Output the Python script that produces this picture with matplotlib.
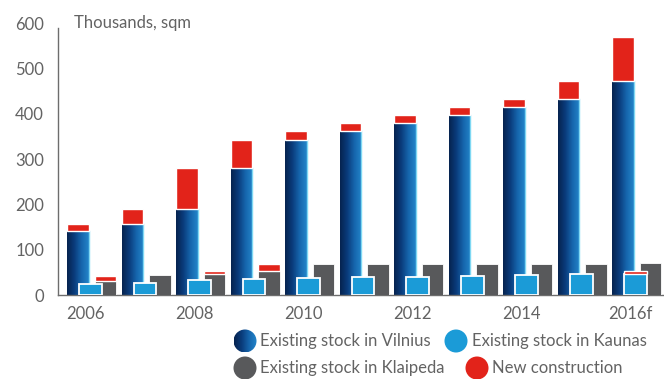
import numpy as np
import matplotlib
matplotlib.use("Agg")
import matplotlib.pyplot as plt
from matplotlib.colors import LinearSegmentedColormap
from matplotlib.patches import Circle

# Office stock, thousands of sqm
years = ["2006", "2007", "2008", "2009", "2010", "2011", "2012", "2013", "2014", "2015", "2016f"]
tick_labels = ["2006", "", "2008", "", "2010", "", "2012", "", "2014", "", "2016f"]
vilnius = [141, 157, 189, 281, 341, 361, 379, 396, 414, 432, 471]
new_vilnius = [16, 33, 91, 60, 20, 18, 17, 18, 18, 39, 98]
kaunas = [24, 26, 33, 35, 37, 39, 40, 42, 44, 46, 46]
new_kaunas = [0, 0, 0, 0, 0, 0, 0, 0, 0, 0, 8]
klaipeda = [31, 44, 46, 53, 68, 68, 68, 68, 68, 68, 71]
new_klaipeda = [12, 0, 6, 15, 0, 0, 0, 0, 0, 0, 0]

legend_labels = ["Existing stock in Vilnius", "Existing stock in Kaunas",
                 "Existing stock in Klaipeda", "New construction"]

TEXT = "#636363"
GREY = "#58595b"
LIGHT_BLUE = "#1b9bd7"
RED = "#e2231a"
blue_grad = LinearSegmentedColormap.from_list(
    "vilnius", ["#06234f", "#0a3c7c", "#1666ad", "#2385ca"])

plt.rcParams["font.family"] = ["Lato", "DejaVu Sans"]

W, H = 664, 379
fig = plt.figure(figsize=(W / 100, H / 100), dpi=100)
ax = fig.add_axes([58 / W, (H - 295) / H, 1 - 58 / W, 272 / H])

x = np.arange(len(years))
v_off, v_w = -0.33, 0.40
k_off, k_w = -0.11, 0.42
g_off, g_w = 0.18, 0.39

# Vilnius: gradient-filled bars with new construction on top
grad = np.linspace(0, 1, 64).reshape(1, -1)
for xi, v, n in zip(x, vilnius, new_vilnius):
    x0 = xi + v_off
    ax.imshow(grad, cmap=blue_grad, extent=[x0, x0 + v_w, 0, v], aspect="auto",
              origin="lower", zorder=2, interpolation="bilinear")
    ax.plot([x0 + v_w, x0 + v_w], [0, v], color="#7fd8f3", lw=1.0, zorder=2.1)
ax.bar(x + v_off, new_vilnius, width=v_w, bottom=vilnius, align="edge",
       color=RED, edgecolor="white", linewidth=1.0, zorder=2.2)

# Klaipeda
ax.bar(x + g_off, klaipeda, width=g_w, align="edge", color=GREY,
       edgecolor="white", linewidth=0.6, zorder=3)
ax.bar(x + g_off, new_klaipeda, width=g_w, bottom=klaipeda, align="edge",
       color=[RED if n > 0 else "none" for n in new_klaipeda],
       edgecolor=["white" if n > 0 else "none" for n in new_klaipeda],
       linewidth=1.0, zorder=3.1)

# Kaunas (front)
ax.bar(x + k_off, kaunas, width=k_w, align="edge", color=LIGHT_BLUE,
       edgecolor="white", linewidth=1.3, zorder=4)
ax.bar(x + k_off, new_kaunas, width=k_w, bottom=kaunas, align="edge",
       color=[RED if n > 0 else "none" for n in new_kaunas],
       edgecolor=["white" if n > 0 else "none" for n in new_kaunas],
       linewidth=1.0, zorder=4.1)

ax.set_xlim(-0.495, 10.62)
ax.set_ylim(0, 600)
ax.set_yticks(np.arange(0, 601, 100))
ax.set_xticks(x)
ax.set_xticklabels(tick_labels)
ax.tick_params(axis="both", length=0, labelsize=12, labelcolor=TEXT)
ax.tick_params(axis="y", pad=10)
ax.tick_params(axis="x", pad=8)
for s in ["top", "right"]:
    ax.spines[s].set_visible(False)
for s in ["left", "bottom"]:
    ax.spines[s].set_color("#6d6d6d")
    ax.spines[s].set_linewidth(1.0)
ax.spines["left"].set_bounds(0, 590)
ax.set_facecolor("none")

ax.text(0.027, 1.0, "Thousands, sqm", transform=ax.transAxes, fontsize=12,
        color=TEXT, ha="left", va="center")

# Legend drawn in pixel coordinates on an overlay
lg = fig.add_axes([0, 0, 1, 1], zorder=5)
lg.axis("off")
lg.patch.set_alpha(0)

entries = [
    (245, 341, None, legend_labels[0]),
    (456, 341, LIGHT_BLUE, legend_labels[1]),
    (245, 368, GREY, legend_labels[2]),
    (477, 368, RED, legend_labels[3]),
]
r = 11.5
for cx, cy, col, lab in entries:
    if col is None:
        circ = Circle((cx, cy), r, facecolor="none", edgecolor="none")
        lg.add_patch(circ)
        im = lg.imshow(grad, cmap=blue_grad, extent=[cx - r, cx + r, cy + r, cy - r],
                       aspect="auto", interpolation="bilinear")
        im.set_clip_path(circ)
    else:
        lg.add_patch(Circle((cx, cy), r, facecolor=col, edgecolor="none"))
    lg.text(cx + r + 4, cy, lab, fontsize=12, color=TEXT, ha="left", va="center")
lg.set_xlim(0, W)
lg.set_ylim(H, 0)

fig.savefig("out.png", dpi=100)
